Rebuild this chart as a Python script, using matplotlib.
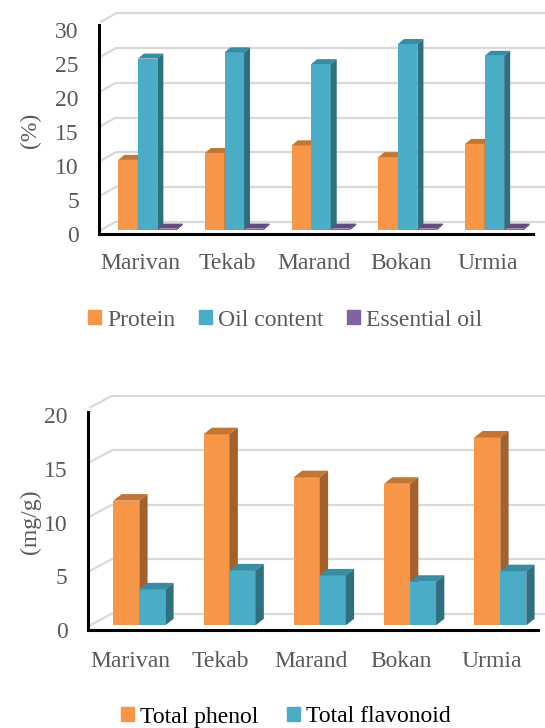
import matplotlib
matplotlib.use("Agg")
import matplotlib.pyplot as plt
from matplotlib.patches import Polygon, Patch

# ---- data ----
sites = ["Marivan", "Tekab", "Marand", "Bokan", "Urmia"]

protein = [10.1, 11.1, 12.2, 10.5, 12.4]
oil_content = [24.7, 25.6, 23.9, 26.8, 25.1]
essential_oil = [0.2, 0.2, 0.2, 0.2, 0.2]

total_phenol = [11.45, 17.55, 13.6, 13.0, 17.25]
total_flavonoid = [3.3, 5.04, 4.58, 4.0, 4.97]

top_ticks = [0, 5, 10, 15, 20, 25, 30]
bottom_ticks = [0, 5, 10, 15, 20]

# ---- styling ----
W, H, DPI = 545, 728, 100
plt.rcParams["font.family"] = ["Liberation Serif", "DejaVu Serif"]
FS = 17
GRAY = "#595959"
GRID = "#D9D9D9"

ORANGE = ("#F79646", "#C27634", "#A3612D")   # front, top, side
TEAL = ("#4BACC6", "#3A8CA2", "#306F80")
PURPLE = ("#8064A2", "#634B82", "#4F3C68")

fig = plt.figure(figsize=(W / DPI, H / DPI), dpi=DPI)


def make_axes(left_px, right_px, top_px, bottom_px, center0_px, step_px,
              base_px, unit_px):
    """Axes whose data units map linearly onto the given pixel frame."""
    ax = fig.add_axes([left_px / W, 1 - bottom_px / H,
                       (right_px - left_px) / W, (bottom_px - top_px) / H])
    ax.set_xlim((left_px - center0_px) / step_px, (right_px - center0_px) / step_px)
    ax.set_ylim((base_px - bottom_px) / unit_px, (base_px - top_px) / unit_px)
    return ax


def draw_panel(ax, series, colors, bar_w, dx, dy, wall, ticks, tick_map,
               spine_top, spine_right, label_shift, label_pad):
    x0, x1 = ax.get_xlim()
    y0, _ = ax.get_ylim()
    diag_x, wall_x, wall_dy = wall

    # back wall grid with the receding floor edges on the left
    for v in ticks:
        ax.plot([wall_x, x1], [v + wall_dy, v + wall_dy], color=GRID, lw=1.6,
                zorder=1, solid_capstyle="butt")
        ax.plot([diag_x, wall_x], [v, v + wall_dy], color=GRID, lw=1.6, zorder=1)

    n = len(series)
    for j, (vals, (front, top, side)) in enumerate(zip(series, colors)):
        z = 3 + j
        xs = [i - n * bar_w / 2 + j * bar_w for i in range(len(vals))]
        ax.bar(xs, vals, width=bar_w, align="edge", color=front,
               linewidth=0, zorder=z)
        for xl, h in zip(xs, vals):
            xr = xl + bar_w
            ax.add_patch(Polygon([(xl, h), (xr, h), (xr + dx, h + dy),
                                  (xl + dx, h + dy)], closed=True,
                                 facecolor=top, edgecolor="none", zorder=z))
            ax.add_patch(Polygon([(xr, 0), (xr, h), (xr + dx, h + dy),
                                  (xr + dx, dy)], closed=True,
                                 facecolor=side, edgecolor="none", zorder=z))

    for s in ("top", "right"):
        ax.spines[s].set_visible(False)
    for s in ("left", "bottom"):
        ax.spines[s].set_color("black")
        ax.spines[s].set_linewidth(2.2)
        ax.spines[s].set_zorder(10)
    ax.spines["left"].set_bounds(y0, spine_top)
    ax.spines["bottom"].set_bounds(x0, spine_right)

    scale, offset = tick_map
    ax.set_yticks([offset + v * scale for v in ticks])
    ax.set_yticklabels([str(v) for v in ticks])
    ax.set_xticks([i + label_shift for i in range(len(sites))])
    ax.set_xticklabels(sites)
    ax.tick_params(axis="y", length=0, pad=14.5, labelsize=FS, labelcolor=GRAY)
    ax.tick_params(axis="x", length=0, pad=label_pad, labelsize=FS, labelcolor=GRAY)
    ax.set_facecolor("none")


# ---- composition chart (%) ----
ax1 = make_axes(left_px=99, right_px=545, top_px=5, bottom_px=234,
                center0_px=147.6, step_px=86.7, base_px=230, unit_px=6.94)
draw_panel(ax1, [protein, oil_content, essential_oil], [ORANGE, TEAL, PURPLE],
           bar_w=0.225, dx=0.069, dy=0.72, wall=(-0.537, -0.368, 1.2),
           ticks=top_ticks, tick_map=(0.977, -0.55), spine_top=29.5,
           spine_right=4.44, label_shift=-0.08, label_pad=14)
fig.text(30 / W, 1 - 130 / H, "(%)", rotation=90, ha="center", va="center",
         fontsize=FS, color=GRAY)

fig.legend(handles=[Patch(color=ORANGE[0], label="Protein"),
                    Patch(color=TEAL[0], label="Oil content"),
                    Patch(color=PURPLE[0], label="Essential oil")],
           loc="center", bbox_to_anchor=(285 / W, 1 - 320 / H), ncol=3,
           frameon=False, fontsize=FS, labelcolor=GRAY, handlelength=0.55,
           handleheight=0.55, handletextpad=0.25, columnspacing=1.0)

# ---- phenolic chart (mg/g) ----
ax2 = make_axes(left_px=87.7, right_px=545, top_px=388, bottom_px=630,
                center0_px=139.3, step_px=90.25, base_px=626, unit_px=10.92)
draw_panel(ax2, [total_phenol, total_flavonoid], [ORANGE, TEAL],
           bar_w=0.288, dx=0.092, dy=0.6, wall=(-0.546, -0.306, 1.07),
           ticks=bottom_ticks, tick_map=(0.987, -0.43), spine_top=19.6,
           spine_right=4.42, label_shift=-0.1, label_pad=15)
fig.text(30 / W, 1 - 522 / H, "(mg/g)", rotation=90, ha="center", va="center",
         fontsize=FS, color=GRAY)

fig.legend(handles=[Patch(color=ORANGE[0], label="Total phenol"),
                    Patch(color=TEAL[0], label="Total flavonoid")],
           loc="center", bbox_to_anchor=(286 / W, 1 - 717 / H), ncol=2,
           frameon=False, fontsize=FS, labelcolor="black", handlelength=0.55,
           handleheight=0.55, handletextpad=0.25, columnspacing=1.2)

fig.savefig("out.png", dpi=DPI, facecolor="white")
